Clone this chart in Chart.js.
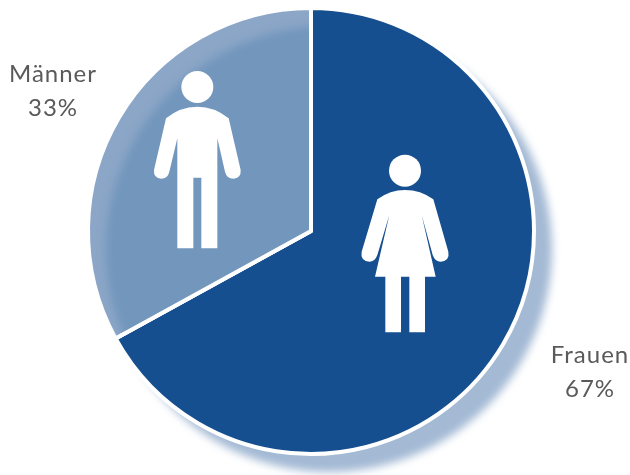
<!DOCTYPE html>
<html><head><meta charset="utf-8">
<script src="https://cdn.jsdelivr.net/npm/chart.js@4"></script>
<style>html,body{margin:0;padding:0;background:#fff}#w{width:630px;height:475px;position:relative}</style>
</head><body><div id="w"><canvas id="c" width="630" height="475"></canvas></div>
<script>
const categories = ['Frauen', 'Männer'];
const shares = [67, 33];
const sliceColors = ['#154f8f', '#8ba6c7'];

const SHADOW = 18;
function disk(ctx, x, y, r, color, blur) {
  ctx.save();
  ctx.filter = 'blur(' + blur + 'px)';
  ctx.fillStyle = color;
  ctx.beginPath(); ctx.arc(x, y, r, 0, Math.PI * 2); ctx.fill();
  ctx.restore();
}
function woman(ctx) {
  const X = v => 350 + v / 3, Y = v => 140 + v / 3;
  ctx.beginPath(); ctx.arc(X(165), Y(92), 16, 0, Math.PI * 2); ctx.fill();
  ctx.beginPath();
  ctx.moveTo(X(82), Y(178));
  ctx.quadraticCurveTo(X(120), Y(150), X(165), Y(150));
  ctx.quadraticCurveTo(X(212), Y(150), X(250), Y(178));
  ctx.lineTo(X(295), Y(335));
  ctx.quadraticCurveTo(X(300), Y(362), X(272), Y(365));
  ctx.quadraticCurveTo(X(255), Y(365), X(248), Y(345));
  ctx.lineTo(X(215), Y(225));
  ctx.lineTo(X(257), Y(410)); ctx.lineTo(X(225), Y(410));
  ctx.lineTo(X(225), Y(577)); ctx.lineTo(X(178), Y(577));
  ctx.lineTo(X(178), Y(410)); ctx.lineTo(X(153), Y(410));
  ctx.lineTo(X(153), Y(577)); ctx.lineTo(X(106), Y(577));
  ctx.lineTo(X(106), Y(410)); ctx.lineTo(X(75), Y(410));
  ctx.lineTo(X(118), Y(225));
  ctx.lineTo(X(82), Y(345));
  ctx.quadraticCurveTo(X(75), Y(365), X(58), Y(365));
  ctx.quadraticCurveTo(X(30), Y(362), X(35), Y(335));
  ctx.closePath(); ctx.fill();
}
function man(ctx) {
  const X = v => 90 + v / 3, Y = v => v / 3;
  ctx.beginPath(); ctx.arc(X(322), Y(261), 16, 0, Math.PI * 2); ctx.fill();
  ctx.beginPath();
  ctx.moveTo(X(228), Y(355));
  ctx.quadraticCurveTo(X(270), Y(320), X(322), Y(320));
  ctx.quadraticCurveTo(X(374), Y(320), X(416), Y(355));
  ctx.lineTo(X(452), Y(510));
  ctx.quadraticCurveTo(X(454), Y(535), X(430), Y(536));
  ctx.quadraticCurveTo(X(410), Y(536), X(405), Y(515));
  ctx.lineTo(X(382), Y(415));
  ctx.lineTo(X(382), Y(745)); ctx.lineTo(X(334), Y(745));
  ctx.lineTo(X(334), Y(533)); ctx.lineTo(X(310), Y(533));
  ctx.lineTo(X(310), Y(745)); ctx.lineTo(X(262), Y(745));
  ctx.lineTo(X(262), Y(415));
  ctx.lineTo(X(238), Y(515));
  ctx.quadraticCurveTo(X(233), Y(536), X(214), Y(536));
  ctx.quadraticCurveTo(X(190), Y(535), X(192), Y(510));
  ctx.closePath(); ctx.fill();
}
const decor = {
  id: 'decor',
  beforeDatasetsDraw(chart) {
    const a = chart.getDatasetMeta(0).data[0];
    disk(chart.ctx, a.x + SHADOW, a.y + SHADOW, a.outerRadius, '#a3b9d4', 4);
  },
  afterDatasetsDraw(chart) {
    const ctx = chart.ctx, m = chart.getDatasetMeta(0).data[1];
    // darker inner zone of the translucent slice, where the shadow lies under it
    ctx.save();
    ctx.beginPath();
    ctx.moveTo(m.x, m.y);
    ctx.arc(m.x, m.y, m.outerRadius, m.startAngle, m.endAngle);
    ctx.closePath(); ctx.clip();
    disk(ctx, m.x + SHADOW, m.y + SHADOW, m.outerRadius, '#7296bc', 4);
    ctx.restore();
    // slice separators redrawn above the inner zone
    ctx.save();
    ctx.strokeStyle = '#fff'; ctx.lineWidth = 4;
    ctx.beginPath();
    ctx.moveTo(m.x + m.outerRadius * Math.cos(m.startAngle), m.y + m.outerRadius * Math.sin(m.startAngle));
    ctx.lineTo(m.x, m.y);
    ctx.lineTo(m.x + m.outerRadius * Math.cos(m.endAngle), m.y + m.outerRadius * Math.sin(m.endAngle));
    ctx.stroke();
    ctx.restore();
    ctx.save();
    ctx.fillStyle = '#fff';
    woman(ctx); man(ctx);
    ctx.font = '24px Lato';
    ctx.letterSpacing = '1px';
    ctx.fillStyle = '#5a5a5a';
    ctx.textAlign = 'center'; ctx.textBaseline = 'middle';
    const spots = [[590, 355, 389], [53, 74, 108]];
    categories.forEach((c, i) => {
      ctx.fillText(c, spots[i][0], spots[i][1]);
      ctx.fillText(shares[i] + '%', spots[i][0], spots[i][2]);
    });
    ctx.restore();
  }
};
new Chart(document.getElementById('c'), {
  type: 'pie',
  data: { labels: categories, datasets: [{ data: shares, backgroundColor: sliceColors, borderColor: '#ffffff', borderWidth: 4 }] },
  options: {
    responsive: false, animation: false, radius: 223,
    layout: { padding: { left: 0, top: 0, right: 8, bottom: 13 } },
    plugins: { legend: { display: false }, tooltip: { enabled: false } }
  },
  plugins: [decor]
});
</script></body></html>
